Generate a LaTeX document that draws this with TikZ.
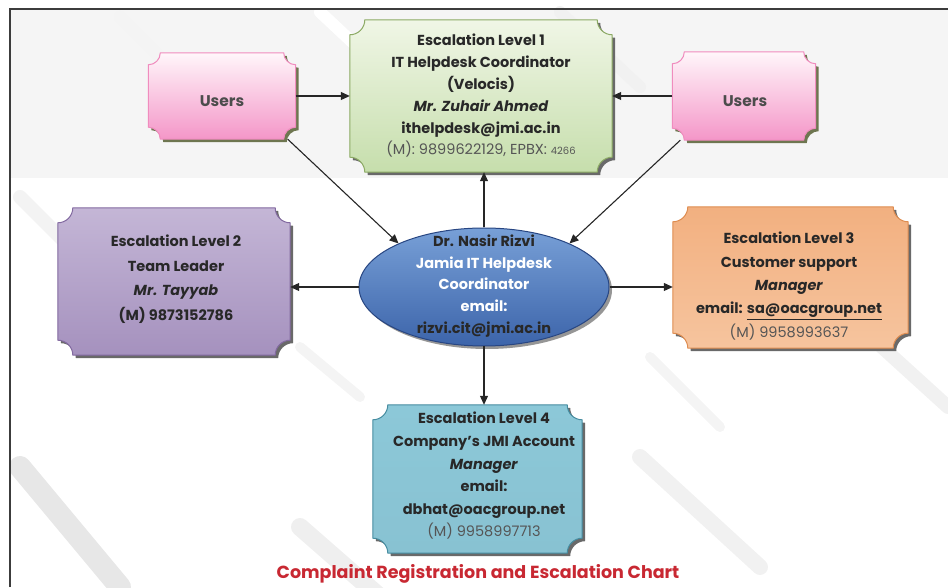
\documentclass[tikz,border=0pt]{standalone}
\usepackage{fontspec}
\setmainfont{Poppins}
\usetikzlibrary{arrows.meta,shapes.geometric,backgrounds,calc}
\definecolor{txt}{RGB}{40,40,40}
\definecolor{gtxt}{RGB}{85,85,85}
\definecolor{framec}{RGB}{60,60,60}
\definecolor{titlec}{RGB}{200,40,50}
\definecolor{shadowc}{RGB}{105,105,105}
\definecolor{ushadow}{RGB}{110,118,80}
% users pink
\definecolor{pinkT}{RGB}{255,246,250}
\definecolor{pinkB}{RGB}{244,150,200}
\definecolor{pinkD}{RGB}{240,140,190}
% level 1 green
\definecolor{grT}{RGB}{240,246,230}
\definecolor{grB}{RGB}{198,222,172}
\definecolor{grD}{RGB}{140,170,100}
% level 2 purple
\definecolor{puT}{RGB}{196,182,214}
\definecolor{puM}{RGB}{238,234,244}
\definecolor{puB}{RGB}{165,145,190}
\definecolor{puD}{RGB}{130,105,160}
% level 3 orange
\definecolor{orT}{RGB}{242,176,128}
\definecolor{orM}{RGB}{252,230,212}
\definecolor{orB}{RGB}{246,196,158}
\definecolor{orD}{RGB}{222,140,80}
% level 4 blue
\definecolor{blT}{RGB}{140,200,216}
\definecolor{blM}{RGB}{224,242,247}
\definecolor{blB}{RGB}{136,194,210}
\definecolor{blD}{RGB}{70,140,160}
% ellipse
\definecolor{elT}{RGB}{120,160,215}
\definecolor{elB}{RGB}{60,100,170}
\definecolor{elD}{RGB}{40,70,130}
\definecolor{keyg}{RGB}{228,228,228}

\newcommand\plqpath[5]{(#1+#5,#2) -- (#3-#5,#2) arc[start angle=180,end angle=270,radius=#5] -- (#3,#4+#5) arc[start angle=90,end angle=180,radius=#5] -- (#1+#5,#4) arc[start angle=0,end angle=90,radius=#5] -- (#1,#2-#5) arc[start angle=270,end angle=360,radius=#5] -- cycle}
\newcommand\plaque[5]{%
  \fill[#5] let \p1=(#1.north west),\p2=(#1.south east) in \plqpath{\x1+3pt}{\y1-3pt}{\x2+3pt}{\y2-3pt}{#2};
  \path[#3,draw=#4,line width=1pt] let \p1=(#1.north west),\p2=(#1.south east) in \plqpath{\x1}{\y1}{\x2}{\y2}{#2};
}

\tikzset{
  boxframe/.style={inner sep=0pt},
  boxtext/.style={inner sep=0pt, align=center, text=txt, font=\bfseries\fontsize{14.5}{#1}\selectfont},
  boxtext/.default=21.8,
  arr/.style={-{Triangle[length=9pt,width=8pt]}, line width=1.1pt, draw=black!85},
  band/.style={line width=#1, keyg, line cap=round},
}

\begin{document}
\begin{tikzpicture}[x=1pt,y=1pt]
\useasboundingbox (0,0) rectangle (948,587);

% box frames (y = 587 - pixel row)
\node[boxframe, minimum width=147pt, minimum height=86pt] (UL) at (222,491) {};
\node[boxframe, minimum width=143pt, minimum height=88pt] (UR) at (744,491) {};
\node[boxframe, minimum width=262pt, minimum height=152pt] (L1) at (481,491) {};
\node[boxframe, minimum width=232pt, minimum height=147pt] (L2) at (174,305.5) {};
\node[boxframe, minimum width=235pt, minimum height=141pt] (L3) at (790.5,309.5) {};
\node[boxframe, minimum width=209pt, minimum height=148pt] (L4) at (477.5,108) {};
\node[ellipse, minimum width=250pt, minimum height=118pt, inner sep=0pt,
      top color=elT, bottom color=elB, draw=elD, line width=1pt] (ell) at (484,300) {};

% texts
\node[boxtext, font=\bfseries\fontsize{15.5}{17}\selectfont, text=black!70] (ULt) at (222,486) {Users};
\node[boxtext, font=\bfseries\fontsize{15.5}{17}\selectfont, text=black!70] (URt) at (745,486) {Users};
\node[boxtext] (L1t) at (481,491)
  {Escalation Level 1\\IT Helpdesk Coordinator\\(Velocis)\\\textit{Mr. Zuhair Ahmed}\\ithelpdesk@jmi.ac.in\\{\mdseries\color{gtxt}(M): 9899622129, EPBX: {\fontsize{10}{12}\selectfont 4266}}};
\node[boxtext=24.5] (L2t) at (176,308)
  {Escalation Level 2\\Team Leader\\\textit{Mr. Tayyab}\\(M) 9873152786};
\node[boxtext=23.3] (L3t) at (789,301)
  {Escalation Level 3\\Customer support\\\textit{Manager}\\email: \underline{sa@oacgroup.net}\\{\mdseries\color{gtxt}(M) 9958993637}};
\node[boxtext=22.6] (L4t) at (484,111)
  {Escalation Level 4\\Company's JMI Account\\\textit{Manager}\\email:\\dbhat@oacgroup.net\\{\mdseries\color{gtxt}(M) 9958997713}};
\node[boxtext=21.8] (ellt) at (484,301)
  {Dr. Nasir Rizvi\\{\color{white}Jamia IT Helpdesk}\\{\color{white}Coordinator}\\{\color{white}email:}\\rizvi.cit@jmi.ac.in};
\node[font=\bfseries\fontsize{17.5}{20}\selectfont, text=titlec, inner sep=0pt] (title) at (478,13)
  {Complaint Registration and Escalation Chart};

\begin{pgfonlayer}{background}
  % faint keyboard background
  \fill[black!4] (10,409) rectangle (948,577);
  \draw[band=22pt, keyg!90] (20,120) -- (120,0);
  \draw[band=18pt, keyg!60] (300,60) -- (380,-10);
  \draw[band=16pt, keyg!50] (640,130) -- (760,20);
  \draw[band=14pt, keyg!50] (860,260) -- (948,180);
  \draw[band=14pt, keyg!45] (20,390) -- (80,330);
  \draw[band=12pt, keyg!40] (120,570) -- (200,490);
  \draw[band=12pt, white] (320,575) -- (400,500);
  \draw[band=12pt, keyg!50] (560,575) -- (640,500);
  \draw[band=10pt, keyg!40] (650,230) -- (720,160);
  \draw[band=10pt, keyg!40] (300,240) -- (360,190);
  % plaques
  \plaque{UL}{12pt}{top color=pinkT, bottom color=pinkB}{pinkD}{ushadow}
  \plaque{UR}{12pt}{top color=pinkT, bottom color=pinkB}{pinkD}{ushadow}
  \plaque{L1}{15pt}{top color=grT, bottom color=grB}{grD}{shadowc}
  \plaque{L2}{15pt}{top color=puT, middle color=puM, bottom color=puB}{puD}{shadowc}
  \plaque{L3}{15pt}{top color=orT, middle color=orM, bottom color=orB}{orD}{shadowc}
  \plaque{L4}{15pt}{top color=blT, middle color=blM, bottom color=blB}{blD}{shadowc}
  \fill[shadowc!70] ([shift={(3pt,-3pt)}]ell.center) ellipse[x radius=125pt, y radius=59pt];
\end{pgfonlayer}

% frame
\draw[framec, line width=2pt] (9.5,0) -- (9.5,577.5) -- (948,577.5);

% connectors
\draw[arr] (UL.east) -- (UL.east -| L1.west);
\draw[arr] (UR.west) -- (UR.west -| L1.east);
\draw[arr] ([xshift=-8pt]UL.south east) -- (ell.153);
\draw[arr] ([xshift=8pt]UR.south west) -- (ell.27);
\draw[arr] (ell.north) -- (ell.north |- L1.south);
\draw[arr] (ell.west) -- (ell.west -| L2.east);
\draw[arr] (ell.east) -- (ell.east -| L3.west);
\draw[arr] (ell.south) -- (ell.south |- L4.north);
\end{tikzpicture}
\end{document}
